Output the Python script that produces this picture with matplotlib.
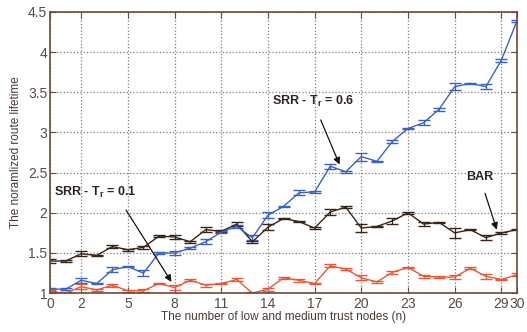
import numpy as np
import matplotlib.pyplot as plt

plt.rcParams['font.family'] = ['Liberation Sans', 'DejaVu Sans']
plt.rcParams['mathtext.fontset'] = 'custom'
plt.rcParams['mathtext.rm'] = 'Liberation Sans:bold'

# number of low/medium trust nodes
n = np.arange(0, 31)

# SRR - Tr = 0.6 (blue)
srr06 = [1.05, 1.05, 1.16, 1.12, 1.29, 1.33, 1.25, 1.50, 1.50, 1.56, 1.64,
         1.76, 1.83, 1.69, 1.97, 2.08, 2.25, 2.26, 2.58, 2.51, 2.70, 2.64,
         2.89, 3.05, 3.12, 3.29, 3.57, 3.61, 3.57, 3.90, 4.39]
srr06_err = [0.02, 0.01, 0.03, 0.01, 0.03, 0.01, 0.04, 0.01, 0.02, 0.01, 0.03,
             0.01, 0.02, 0.03, 0.04, 0.01, 0.03, 0.01, 0.03, 0.01, 0.05, 0.01,
             0.02, 0.01, 0.03, 0.02, 0.04, 0.01, 0.03, 0.02, 0.01]

# SRR - Tr = 0.1 (red)
srr01 = [1.02, 1.00, 1.08, 1.04, 1.10, 1.03, 1.03, 1.12, 1.07, 1.16, 1.10,
         1.12, 1.17, 1.00, 1.05, 1.19, 1.16, 1.12, 1.34, 1.30, 1.19, 1.14,
         1.26, 1.32, 1.21, 1.20, 1.20, 1.31, 1.21, 1.17, 1.23]
srr01_err = [0.02, 0.01, 0.03, 0.01, 0.02, 0.01, 0.02, 0.01, 0.03, 0.01, 0.02,
             0.01, 0.02, 0.01, 0.02, 0.01, 0.02, 0.01, 0.02, 0.01, 0.03, 0.01,
             0.02, 0.01, 0.02, 0.01, 0.03, 0.01, 0.03, 0.01, 0.02]

# BAR (black)
bar = [1.40, 1.40, 1.49, 1.47, 1.58, 1.54, 1.57, 1.71, 1.70, 1.64, 1.79,
       1.77, 1.86, 1.64, 1.82, 1.93, 1.89, 1.81, 2.01, 2.07, 1.81, 1.83,
       1.90, 2.00, 1.86, 1.88, 1.75, 1.79, 1.69, 1.75, 1.79]
bar_err = [0.03, 0.01, 0.03, 0.01, 0.02, 0.01, 0.02, 0.01, 0.03, 0.01, 0.03,
           0.01, 0.03, 0.01, 0.04, 0.01, 0.01, 0.01, 0.04, 0.01, 0.05, 0.01,
           0.04, 0.01, 0.03, 0.01, 0.06, 0.01, 0.03, 0.01, 0.01]

xticks = [0, 2, 5, 8, 11, 14, 17, 20, 23, 26, 29, 30]

fig = plt.figure(figsize=(5.27, 3.32), dpi=100)
ax = fig.add_axes([0.095, 0.117, 0.886, 0.847])

frame = '#6e4a3a'
ax.errorbar(n, bar, yerr=bar_err, color='#3a2418', lw=1.0, capsize=4,
            elinewidth=0.9, capthick=1.0)
ax.errorbar(n, srr06, yerr=srr06_err, color='#3a62c4', lw=1.0, capsize=4,
            elinewidth=0.9, capthick=1.0)
ax.errorbar(n, srr01, yerr=srr01_err, color='#e8583a', lw=1.0, capsize=4,
            elinewidth=0.9, capthick=1.0)

ax.set_xlim(0, 30)
ax.set_ylim(1, 4.5)
ax.set_xticks(xticks)
ax.set_yticks([1, 1.5, 2, 2.5, 3, 3.5, 4, 4.5])
ax.set_yticklabels(['1', '1.5', '2', '2.5', '3', '3.5', '4', '4.5'])
ax.grid(True, linestyle=':', color='#8a7a70', lw=0.9)
ax.tick_params(direction='in', top=True, right=True, length=4,
               color=frame, labelcolor='#5a4a44', labelsize=10)
ax.tick_params(axis='x', pad=3)
ax.tick_params(axis='y', pad=2)
for s in ax.spines.values():
    s.set_color(frame)
    s.set_linewidth(1.2)

ax.set_xlabel('The number of low and medium trust nodes (n)', fontsize=8.5,
              color='#4a3a34', labelpad=0)
ax.set_ylabel('The noramlized route lifetime', fontsize=8.5,
              color='#4a3a34', labelpad=4)

tc = '#2e2420'
arrow = dict(arrowstyle='-|>', color='#1a1410', lw=0.9, shrinkA=6, shrinkB=0,
             mutation_scale=10)
ax.annotate('SRR - T$_\\mathregular{r}$ = 0.6', xy=(18.6, 2.6), xytext=(16.9, 3.38),
            ha='center', va='center', fontsize=9, fontweight='bold', color=tc,
            arrowprops=arrow)
ax.annotate('SRR - T$_\\mathregular{r}$ = 0.1', xy=(7.8, 1.14), xytext=(2.9, 2.25),
            ha='center', va='center', fontsize=9, fontweight='bold', color=tc,
            arrowprops=dict(arrow, relpos=(0.8, 0)))
ax.annotate('BAR', xy=(28.7, 1.79), xytext=(27.6, 2.45),
            ha='center', va='center', fontsize=9, fontweight='bold', color=tc,
            arrowprops=arrow)

fig.savefig('out.png', dpi=100)
